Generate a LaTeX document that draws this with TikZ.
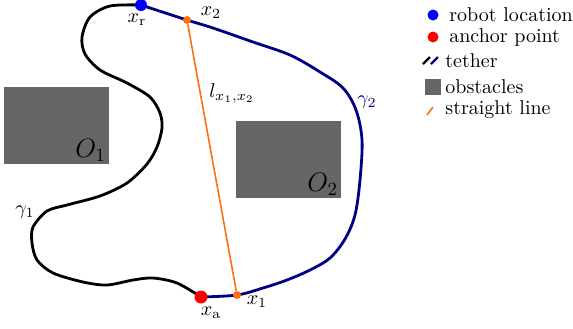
\documentclass[tikz,border=0pt]{standalone}
\usetikzlibrary{positioning}
\definecolor{tetherBlue}{RGB}{0,0,135}
\definecolor{lineOrange}{RGB}{255,110,10}
\definecolor{obstGray}{RGB}{102,102,102}
\tikzset{
  tether map/.style={x=0.5pt,y=-0.5pt,line join=round,
    every node/.style={inner sep=1pt}},
  tether one/.style={draw=black, line width=1.4pt},
  tether two/.style={draw=tetherBlue, line width=1.4pt},
  straight/.style={draw=lineOrange, line width=0.8pt},
  obstacle/.style={fill=obstGray},
  robot dot/.style={circle, fill=blue, minimum size=6pt, inner sep=0pt},
  anchor dot/.style={circle, fill=red, minimum size=6.5pt, inner sep=0pt},
  touch dot/.style={circle, fill=lineOrange, minimum size=4pt, inner sep=0pt},
  obst label/.style={font=\Large, transform shape, scale=0.93, anchor=south east}
}

\begin{document}
\begin{tikzpicture}[tether map]
    \useasboundingbox (0,0) rectangle (573,328);
    % obstacles
    \fill[obstacle] (4,87) rectangle (109,164);
    \fill[obstacle] (236,121) rectangle (341,198);
    \node[obst label] (o1) at (108,164) {$O_1$};
    \node[obst label] (o2) at (340,198) {$O_2$};
    % points on the tether
    \coordinate (pr) at (141,5);
    \coordinate (pa) at (201,297);
    \coordinate (p2) at (187,20);
    \coordinate (p1) at (237,295);
    % tether gamma 1
    \draw[tether one] plot[smooth,tension=0.5] coordinates {(pr) (110,6)
      (90,17) (82,37) (85,54) (100,70) (127,83) (150,97) (160,113) (162,128)
      (157,147) (147,164) (127,183) (100,196) (67,205) (47,211) (33,227)
      (32,243) (37,260) (53,273) (83,282) (107,285) (133,280) (153,278)
      (177,283) (pa)};
    % tether gamma 2
    \draw[tether two] plot[smooth,tension=0.55] coordinates {(pr) (p2) (213,28)
      (253,42) (290,55) (320,72) (343,88) (356,110) (362,140)
      (360,180) (355,215) (345,239) (330,258) (310,270) (287,280)
      (263,288) (p1) (pa)};
    \node[robot dot] (xr) at (pr) {};
    \node[anchor dot] (xa) at (pa) {};
    \node[touch dot] (x2) at (p2) {};
    \node[touch dot] (x1) at (p1) {};
    \draw[straight] (x2) -- (x1);
    % labels
    \node (lxr) at (137,20) {$x_{\mathrm{r}}$};
    \node (lxa) at (211,313) {$x_{\mathrm{a}}$};
    \node (lx2) at (211,13) {$x_2$};
    \node (lx1) at (257,302) {$x_1$};
    \node (lline) at (232,93) {$l_{x_1,x_2}$};
    \node (g1) at (25,212) {$\gamma_1$};
    \node[text=tetherBlue] (g2) at (367,102) {$\gamma_2$};
    % legend
    \node[robot dot,minimum size=5.5pt] (kr) at (433,15) {};
    \node[right=4pt of kr] (tr) {robot location};
    \node[anchor dot,minimum size=5.5pt] (ka) at (433,37) {};
    \node[right=4pt of ka] (ta) {anchor point};
    \draw[black,line width=1.2pt] (423,64) -- (430,57);
    \draw[tetherBlue,line width=1.2pt] (431,64) -- (438,57);
    \node[anchor=west] (tt) at (443,61) {tether};
    \fill[obstacle] (425,79) rectangle (441,95);
    \node[anchor=west] (to) at (443,87) {obstacles};
    \draw[straight] (427,115) -- (433,107);
    \node[anchor=west] (ts) at (443,110) {straight line};
\end{tikzpicture}
\end{document}
